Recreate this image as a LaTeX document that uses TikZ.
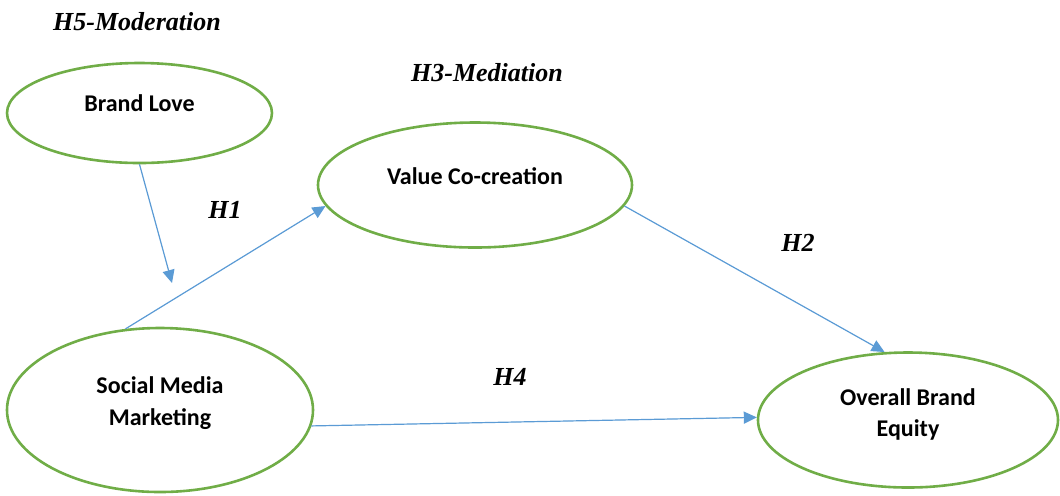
\documentclass[tikz,border=0pt]{standalone}
\usepackage{fontspec}
\usepackage{tikz}
\usetikzlibrary{arrows.meta, positioning, shapes.geometric}
\newfontfamily\carlito{Carlito}
\newfontfamily\hypserif{Liberation Serif}
\definecolor{ovalgreen}{RGB}{112, 173, 71}
\definecolor{arrowblue}{RGB}{91, 155, 213}

\begin{document}
\begin{tikzpicture}[
    x=0.5pt, y=-0.5pt,
    construct/.style 2 args={ellipse, draw=ovalgreen, line width=1.3pt, minimum width=#1, minimum height=#2, inner sep=0pt, align=center, font=\carlito\bfseries\fontsize{12}{15.5}\selectfont},
    hyp/.style={font=\hypserif\bfseries\itshape\fontsize{13}{15}\selectfont},
    arr/.style={-{Triangle[length=6.5pt, width=6pt]}, draw=arrowblue, fill=arrowblue, line width=0.6pt}
]
\useasboundingbox (0,0) rectangle (1060,495);

% Constructs (text depth lifts the text a little above the centre)
\node[construct={132.5pt}{50pt}, text depth=10pt] (brandlove) at (139.5,113) {Brand Love};
\node[construct={157pt}{62.5pt}, text depth=9pt] (valuecc) at (475,185) {Value Co-creation};
\node[construct={153pt}{82pt}, text depth=9pt] (smm) at (160,410) {Social Media\\[0.5pt]Marketing};
\node[construct={150pt}{67.5pt}, text depth=7pt] (obe) at (908,420) {Overall Brand\\Equity};

% Hypotheses
\node[hyp] (h5) at (137,22) {H5-Moderation};
\node[hyp] (h3) at (487,73) {H3-Mediation};
\node[hyp] (h1) at (225,210) {H1};
\node[hyp] (h2) at (798,243) {H2};
\node[hyp] (h4) at (510,377) {H4};

% Moderation target on the H1 path
\coordinate (modtip) at (172,283);

% Paths
\draw[arr] (brandlove.270) -- (modtip);
\draw[arr] (smm.113) -- (valuecc.188);
\draw[arr] (valuecc.352) -- (obe.109);
\draw[arr] (smm.354) -- (obe.179);

\end{tikzpicture}
\end{document}
